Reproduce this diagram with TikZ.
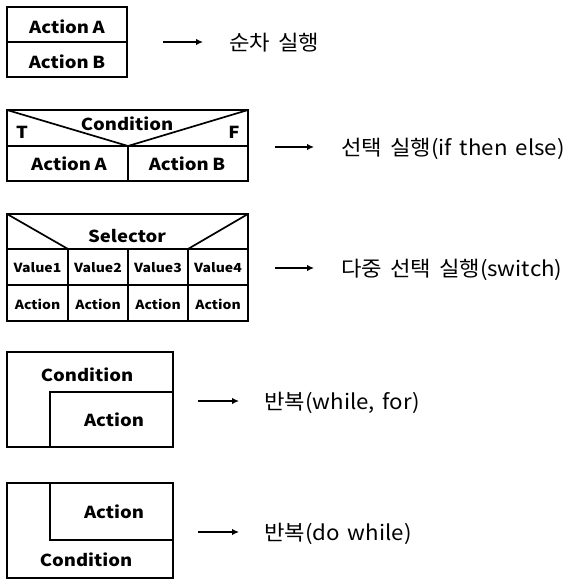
\documentclass[tikz,border=0pt]{standalone}
\usepackage{fontspec}
\setmainfont{Noto Sans CJK KR}
\newfontfamily\boxfont[FakeStretch=1.12,WordSpace=0.85]{Noto Sans CJK KR}
\newfontfamily\descfont[FakeStretch=1.06,WordSpace=1.6]{Noto Sans CJK KR}
\usetikzlibrary{arrows.meta}

\begin{document}
\begin{tikzpicture}[x=1pt,y=-1pt,
  frame/.style={line width=1.7pt, line join=miter},
  boxnode/.style={draw, line width=1.7pt, inner sep=0pt, outer sep=0pt, anchor=north west},
  lbl/.style={font=\boxfont\bfseries\fontsize{16.5}{16.5}\selectfont, inner sep=0pt},
  small/.style={font=\boxfont\bfseries\fontsize{12.5}{12.5}\selectfont, inner sep=0pt},
  desc/.style={font=\descfont\fontsize{21}{21}\selectfont, anchor=base west, inner sep=0pt},
  arr/.style={line width=1.7pt, -{Latex[length=7pt,width=6.5pt]}}]
\useasboundingbox (0,0) rectangle (571,580);
\fill[white] (0,0) rectangle (571,580);

% --- sequence ---
\node[boxnode, minimum width=120pt, minimum height=70pt] (seq) at (7,7) {};
\draw[frame] (7,42) -- (127,42);
\node[lbl] (seqA) at (67,27) {Action A};
\node[lbl] (seqB) at (67,62) {Action B};
\node[desc] (seqT) at (229,51) {순차 실행};
\coordinate (seqS) at (163,42);
\coordinate (seqE) at (203,42);
\draw[arr] (seqS) -- (seqE);

% --- if then else ---
\node[boxnode, minimum width=241pt, minimum height=71pt] (ife) at (7,110) {};
\draw[frame] (7,146) -- (248,146);
\draw[frame] (128,146) -- (128,181);
\draw[frame] (7,110) -- (128,146) -- (248,110);
\node[lbl] (ifC) at (127,124) {Condition};
\node[lbl] (ifT) at (22,132) {T};
\node[lbl] (ifF) at (234,132) {F};
\node[lbl] (ifA) at (69,164) {Action A};
\node[lbl] (ifB) at (187,164) {Action B};
\node[desc] (ifeT) at (341,156) {선택 실행(if then else)};
\coordinate (ifeS) at (275,147);
\coordinate (ifeE) at (314,147);
\draw[arr] (ifeS) -- (ifeE);

% --- switch ---
\node[boxnode, minimum width=241pt, minimum height=107pt] (sw) at (7,214) {};
\draw[frame] (7,249) -- (248,249);
\draw[frame] (7,285) -- (248,285);
\foreach \cx in {68,128,188} \draw[frame] (\cx,249) -- (\cx,321);
\draw[frame] (7,214) -- (68,249);
\draw[frame] (248,214) -- (188,249);
\node[lbl] (swSel) at (127,236) {Selector};
\node[small] (v1) at (37.5,268) {Value1};
\node[small] (v2) at (98,268) {Value2};
\node[small] (v3) at (158,268) {Value3};
\node[small] (v4) at (218,268) {Value4};
\node[small] (a1) at (37.5,304) {Action};
\node[small] (a2) at (98,304) {Action};
\node[small] (a3) at (158,304) {Action};
\node[small] (a4) at (218,304) {Action};
\node[desc] (swT) at (341,276) {다중 선택 실행(switch)};
\coordinate (swS) at (275,268);
\coordinate (swE) at (314,268);
\draw[arr] (swS) -- (swE);

% --- while / for ---
\node[boxnode, minimum width=166pt, minimum height=95pt] (wh) at (7,352) {};
\draw[frame] (50,447) -- (50,392) -- (173,392);
\node[lbl] (whC) at (87,375) {Condition};
\node[lbl] (whA) at (114,420) {Action};
\node[desc] (whT) at (264,409.5) {반복(while, for)};
\coordinate (whS) at (198,401);
\coordinate (whE) at (239,401);
\draw[arr] (whS) -- (whE);

% --- do while ---
\node[boxnode, minimum width=166pt, minimum height=95pt] (dw) at (7,483) {};
\draw[frame] (50,483) -- (50,540) -- (173,540);
\node[lbl] (dwA) at (114,512) {Action};
\node[lbl] (dwC) at (86,560) {Condition};
\node[desc] (dwT) at (264,540) {반복(do while)};
\coordinate (dwS) at (198,532);
\coordinate (dwE) at (239,532);
\draw[arr] (dwS) -- (dwE);
\end{tikzpicture}
\end{document}
